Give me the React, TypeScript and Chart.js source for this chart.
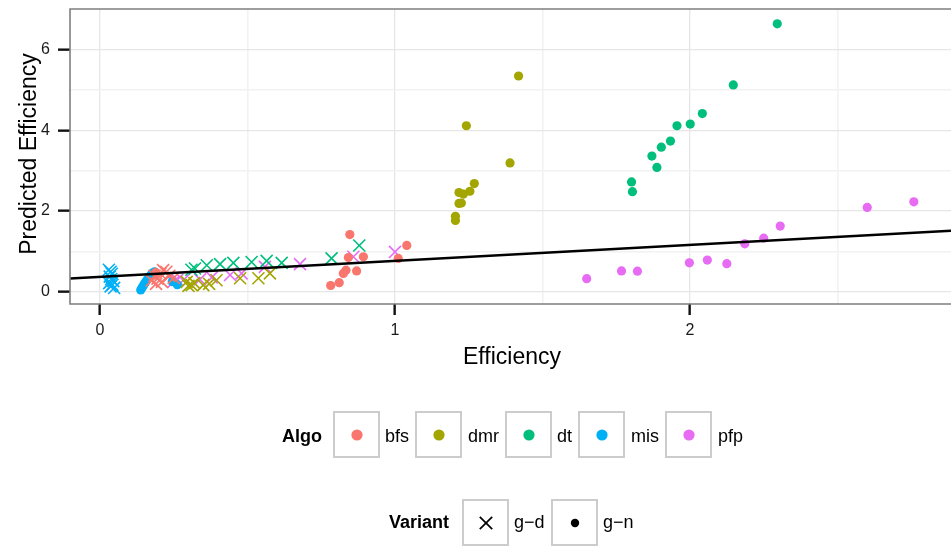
import React, { useEffect, useRef } from "react";
import { Chart, registerables } from "chart.js";
Chart.register(...registerables);

const algoNames = ["bfs", "dmr", "dt", "mis", "pfp"];
const algoColors = ["#F8766D", "#A3A500", "#00BF7D", "#00B0F6", "#E76BF3"];
const variantNames = ["g\u2212d", "g\u2212n"];

// Variant g-d (crosses)
const bfsGdX = [0.175, 0.185, 0.195, 0.205, 0.214, 0.225, 0.235, 0.19, 0.21, 0.25];
const bfsGdY = [0.28, 0.4, 0.33, 0.45, 0.54, 0.5, 0.4, 0.2, 0.25, 0.35];
const dmrGdX = [0.294, 0.3, 0.311, 0.32, 0.35, 0.37, 0.395, 0.475, 0.537, 0.576];
const dmrGdY = [0.25, 0.15, 0.17, 0.22, 0.17, 0.2, 0.29, 0.34, 0.34, 0.46];
const dtGdX = [0.31, 0.322, 0.362, 0.407, 0.452, 0.514, 0.565, 0.616, 0.785, 0.879];
const dtGdY = [0.55, 0.58, 0.66, 0.69, 0.72, 0.74, 0.77, 0.72, 0.83, 1.15];
const misGdX = [0.03, 0.036, 0.04, 0.033, 0.038, 0.045, 0.031, 0.042, 0.036, 0.048];
const misGdY = [0.55, 0.5, 0.45, 0.38, 0.32, 0.27, 0.22, 0.18, 0.14, 0.1];
const pfpGdX = [0.249, 0.262, 0.282, 0.339, 0.379, 0.441, 0.48, 0.559, 0.678, 0.859, 1.0];
const pfpGdY = [0.25, 0.3, 0.29, 0.31, 0.36, 0.42, 0.46, 0.62, 0.69, 0.87, 0.99];

// Variant g-n (dots)
const bfsGnX = [0.847, 1.04, 1.011, 0.893, 0.842, 0.87, 0.834, 0.825, 0.811, 0.782, 0.189];
const bfsGnY = [1.42, 1.15, 0.83, 0.87, 0.85, 0.52, 0.54, 0.46, 0.23, 0.16, 0.48];
const dmrGnX = [1.419, 1.242, 1.39, 1.269, 1.254, 1.232, 1.217, 1.217, 1.225, 1.205, 1.205];
const dmrGnY = [5.34, 4.11, 3.19, 2.68, 2.49, 2.42, 2.46, 2.19, 2.2, 1.87, 1.77];
const dtGnX = [2.296, 2.147, 2.042, 2.001, 1.956, 1.934, 1.903, 1.871, 1.888, 1.802, 1.805];
const dtGnY = [6.63, 5.12, 4.41, 4.15, 4.11, 3.73, 3.58, 3.36, 3.08, 2.72, 2.48];
const misGnX = [0.138, 0.142, 0.146, 0.15, 0.155, 0.16, 0.166, 0.172, 0.178, 0.185, 0.245, 0.262];
const misGnY = [0.05, 0.1, 0.15, 0.2, 0.25, 0.3, 0.36, 0.42, 0.47, 0.5, 0.26, 0.18];
const pfpGnX = [1.65, 1.768, 1.822, 1.998, 2.059, 2.125, 2.186, 2.25, 2.306, 2.601, 2.759];
const pfpGnY = [0.33, 0.52, 0.515, 0.72, 0.79, 0.7, 1.19, 1.33, 1.63, 2.09, 2.23];

// Fitted line endpoints
const fitX = [-0.102, 2.885];
const fitY = [0.335, 1.515];

const xTicks = [0, 0.5, 1, 1.5, 2, 2.5];
const xMajor = [0, 1, 2];
const yTicks = [0, 1, 2, 3, 4, 5, 6];
const yMajor = [0, 2, 4, 6];

const xTitle = "Efficiency";
const yTitle = "Predicted Efficiency";
const algoTitle = "Algo";
const variantTitle = "Variant";

const gdX = [bfsGdX, dmrGdX, dtGdX, misGdX, pfpGdX];
const gdY = [bfsGdY, dmrGdY, dtGdY, misGdY, pfpGdY];
const gnX = [bfsGnX, dmrGnX, dtGnX, misGnX, pfpGnX];
const gnY = [bfsGnY, dmrGnY, dtGnY, misGnY, pfpGnY];

const FONT = '"Liberation Sans", Arial, Helvetica, sans-serif';

const zip = (xs: number[], ys: number[]) => xs.map((x, i) => ({ x, y: ys[i] }));

const framePlugin = {
  id: "frame",
  afterDatasetsDraw(chart: any) {
    const { ctx, chartArea } = chart;
    ctx.save();
    ctx.strokeStyle = "#7f7f7f";
    ctx.lineWidth = 1.6;
    ctx.beginPath();
    ctx.moveTo(chartArea.right + 10, chartArea.top);
    ctx.lineTo(chartArea.left, chartArea.top);
    ctx.lineTo(chartArea.left, chartArea.bottom);
    ctx.lineTo(chartArea.right + 10, chartArea.bottom);
    ctx.stroke();
    ctx.restore();
  },
  afterDraw(chart: any) {
    const { ctx } = chart;
    ctx.save();
    ctx.fillStyle = "#000";
    ctx.font = `23px ${FONT}`;
    ctx.textAlign = "center";
    ctx.textBaseline = "alphabetic";
    ctx.fillText(xTitle, 512, 364);
    ctx.translate(36, 154);
    ctx.rotate(-Math.PI / 2);
    ctx.fillText(yTitle, 0, 0);
    ctx.restore();
  },
};

function ChartCanvas() {
  const ref = useRef<HTMLCanvasElement | null>(null);
  useEffect(() => {
    if (!ref.current) return;
    const datasets: any[] = [
      {
        type: "line",
        data: zip(fitX, fitY),
        borderColor: "#000",
        borderWidth: 2.6,
        pointRadius: 0,
        showLine: true,
        order: -1,
      },
    ];
    algoNames.forEach((name, i) => {
      datasets.push({
        label: `${name} ${variantNames[0]}`,
        data: zip(gdX[i], gdY[i]),
        pointStyle: "crossRot",
        pointRadius: 8.5,
        borderWidth: 1.6,
        borderColor: algoColors[i],
        backgroundColor: algoColors[i],
      });
      datasets.push({
        label: `${name} ${variantNames[1]}`,
        data: zip(gnX[i], gnY[i]),
        pointStyle: "circle",
        pointRadius: 4.6,
        borderWidth: 0,
        backgroundColor: algoColors[i],
      });
    });
    const chart = new Chart(ref.current, {
      type: "scatter",
      data: { datasets },
      plugins: [framePlugin],
      options: {
        animation: false,
        responsive: false,
        devicePixelRatio: 1,
        layout: { autoPadding: false, padding: { top: 9, right: 0, left: 0, bottom: 0 } },
        plugins: { legend: { display: false }, tooltip: { enabled: false } },
        scales: {
          x: {
            type: "linear",
            min: -0.1017,
            max: 2.885,
            afterBuildTicks: (s: any) => {
              s.ticks = xTicks.map((v) => ({ value: v }));
            },
            afterFit: (s: any) => {
              s.height = 242;
              s.paddingLeft = 0;
              s.paddingRight = 0;
              s.paddingTop = 0;
              s.paddingBottom = 0;
            },
            border: { display: false },
            grid: {
              color: (c: any) => (xMajor.includes(c.tick?.value) ? "#e6e6e6" : "#f2f2f2"),
              lineWidth: (c: any) => (xMajor.includes(c.tick?.value) ? 1.3 : 1.6),
              tickLength: 11,
              tickWidth: 2.4,
              tickColor: (c: any) => (xMajor.includes(c.tick?.value) ? "#111" : "rgba(0,0,0,0)"),
            },
            ticks: {
              autoSkip: false,
              maxRotation: 0,
              padding: 6,
              color: "#1a1a1a",
              font: { family: FONT, size: 16 },
              callback: (v: any) => (xMajor.includes(v) ? String(v) : ""),
            },
          },
          y: {
            type: "linear",
            min: -0.297,
            max: 6.996,
            afterBuildTicks: (s: any) => {
              s.ticks = yTicks.map((v) => ({ value: v }));
            },
            afterFit: (s: any) => {
              s.width = 70;
              s.paddingLeft = 0;
              s.paddingRight = 0;
              s.paddingTop = 0;
              s.paddingBottom = 0;
            },
            border: { display: false },
            grid: {
              color: (c: any) => (yMajor.includes(c.tick?.value) ? "#e6e6e6" : "#f2f2f2"),
              lineWidth: (c: any) => (yMajor.includes(c.tick?.value) ? 1.3 : 1.6),
              tickLength: 12,
              tickWidth: 2.4,
              tickColor: (c: any) => (yMajor.includes(c.tick?.value) ? "#111" : "rgba(0,0,0,0)"),
            },
            ticks: {
              autoSkip: false,
              padding: 8,
              color: "#1a1a1a",
              font: { family: FONT, size: 16 },
              callback: (v: any) => (yMajor.includes(v) ? String(v) : ""),
            },
          },
        },
      } as any,
    });
    return () => chart.destroy();
  }, []);
  return <canvas ref={ref} width={951} height={546} style={{ position: "absolute", left: 0, top: 0 }} />;
}

const Marker = ({ kind, color }: { kind: string; color: string }) => (
  <svg width={20} height={20} viewBox="0 0 20 20">
    {kind === "dot" && <circle cx={10} cy={10} r={5.6} fill={color} />}
    {kind === "smalldot" && <circle cx={10} cy={10} r={4.2} fill={color} />}
    {kind === "cross" && (
      <g stroke={color} strokeWidth={1.7}>
        <line x1={3.8} y1={3.8} x2={16.2} y2={16.2} />
        <line x1={3.8} y1={16.2} x2={16.2} y2={3.8} />
      </g>
    )}
  </svg>
);

const KeyBox = ({ left, top, children }: any) => (
  <div
    style={{
      position: "absolute",
      left,
      top,
      width: 47,
      height: 47,
      boxSizing: "border-box",
      border: "2px solid #cccccc",
      background: "#fff",
      display: "flex",
      alignItems: "center",
      justifyContent: "center",
    }}
  >
    {children}
  </div>
);

const Label = ({ left, cy, bold, children }: any) => (
  <div
    style={{
      position: "absolute",
      left,
      top: cy - 12,
      height: 24,
      lineHeight: "24px",
      fontFamily: FONT,
      fontSize: 18,
      fontWeight: bold ? "bold" : "normal",
      color: "#000",
      whiteSpace: "nowrap",
    }}
  >
    {children}
  </div>
);

export default function App() {
  const algoBoxLefts = [333, 415, 505, 578, 665];
  const algoLabelLefts = [385, 468, 557, 631, 718];
  const varBoxLefts = [462, 551];
  const varLabelLefts = [514, 603];
  return (
    <div
      style={{
        position: "fixed",
        left: 0,
        top: 0,
        width: 951,
        height: 546,
        overflow: "hidden",
        background: "#fff",
      }}
    >
      <ChartCanvas />
      <Label left={282} cy={436} bold>
        {algoTitle}
      </Label>
      {algoNames.map((n, i) => (
        <React.Fragment key={n}>
          <KeyBox left={algoBoxLefts[i]} top={411}>
            <Marker kind="dot" color={algoColors[i]} />
          </KeyBox>
          <Label left={algoLabelLefts[i]} cy={436}>
            {n}
          </Label>
        </React.Fragment>
      ))}
      <Label left={389} cy={522} bold>
        {variantTitle}
      </Label>
      {variantNames.map((n, i) => (
        <React.Fragment key={n}>
          <KeyBox left={varBoxLefts[i]} top={499}>
            <Marker kind={i === 0 ? "cross" : "smalldot"} color="#000" />
          </KeyBox>
          <Label left={varLabelLefts[i]} cy={522}>
            {n}
          </Label>
        </React.Fragment>
      ))}
    </div>
  );
}
